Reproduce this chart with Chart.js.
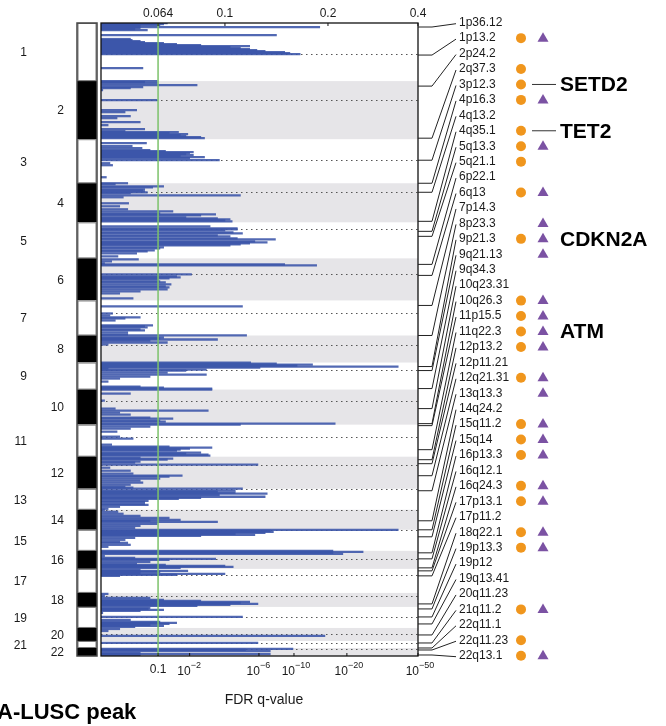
<!DOCTYPE html>
<html>
<head>
<meta charset="utf-8">
<script src="https://cdn.jsdelivr.net/npm/chart.js@4.4.1/dist/chart.umd.min.js"></script>
<style>
  html, body { margin: 0; padding: 0; background: #fff; }
  canvas { display: block; }
</style>
</head>
<body>
<canvas id="plot" width="666" height="726"></canvas>
<script>
// Chromosomes (lengths in marker units) and centromere offsets
const chromNames = ['1','2','3','4','5','6','7','8','9','10','11','12','13','14','15','16','17','18','19','20','21','22'];
const chromSizes = [58,58,44,39,36,42,35,27,27,35,32,32,21,20,21,18,24,14,21,13,7,8];
const centromeres = [31,19,21,9,7,16,13,9,7,11,12,8,0,0,0,8,6,3,10,6,2,1];

// Deletion G-score profile per chromosome: [offset, G-score]
const chr1 = [[0,.069],[1,.067],[2,.065],[3,.044],[4,.192],[5,.044],[6,.038],[7,.052],[12,.150],[16,.033],[17,.035],[18,.044],[19,.049],[20,.067],[21,.074],[22,.087],[23,.124],[24,.105],[25,.115],[26,.124],[27,.131],[28,.139],[29,.158],[30,.163],[31,.173],[45,.047]];
const chr2 = [[0,.063],[1,.049],[2,.063],[4,.085],[6,.047],[7,.033],[9,.002],[19,.063],[29,.040],[31,.027],[35,.033],[37,.018],[41,.044],[44,.008],[48,.049],[50,.027],[51,.075],[52,.070],[53,.080],[54,.076],[55,.079],[56,.087],[57,.089]];
const chr3 = [[4,.051],[7,.035],[9,.046],[11,.055],[12,.068],[13,.083],[14,.081],[15,.079],[16,.083],[17,.076],[18,.089],[19,.081],[21,.097],[24,.010],[26,.013],[38,.006]];
const chr4 = [[0,.030],[1,.016],[3,.067],[4,.058],[6,.049],[7,.047],[8,.049],[9,.052],[10,.033],[12,.115],[14,.025],[20,.031],[23,.021],[26,.030],[28,.072],[30,.065],[31,.095],[32,.087],[34,.079],[35,.096],[36,.105],[37,.100],[38,.107]];
const chr5 = [[4,.092],[6,.112],[7,.112],[8,.100],[10,.108],[11,.117],[13,.096],[14,.105],[16,.112],[17,.149],[19,.129],[20,.141],[21,.124],[22,.115],[23,.105],[25,.067],[26,.065],[28,.060],[29,.052],[31,.040],[34,.019]];
const chr6 = [[1,.042],[3,.012],[5,.004],[6,.158],[7,.189],[16,.082],[18,.074],[19,.076],[20,.070],[21,.064],[23,.065],[24,.068],[26,.071],[28,.068],[29,.070],[31,.069],[33,.044],[35,.021],[40,.036]];
const chr7 = [[6,.117],[13,.013],[15,.010],[17,.044],[18,.027],[20,.016],[25,.058],[26,.049],[27,.052],[29,.044],[30,.049],[32,.030],[34,.030]];
const chr8 = [[0,.121],[2,.067],[3,.065],[4,.096],[5,.055],[7,.069],[9,.008]];
const chr9 = [[0,.125],[1,.150],[2,.185],[3,.170],[4,.356],[5,.134],[6,.008],[7,.090],[8,.079],[10,.069],[12,.090],[14,.055],[16,.021],[19,.008],[24,.044],[25,.067],[26,.093]];
const chr10 = [[0,.093],[4,.033],[11,.004],[19,.016],[21,.091],[23,.021],[25,.033],[28,.055],[29,.072],[31,.065],[32,.068],[34,.216]];
const chr11 = [[0,.115],[2,.055],[4,.033],[7,.018],[12,.021],[14,.036],[20,.012],[22,.070],[23,.093],[24,.081],[25,.076],[26,.074],[28,.087],[29,.079],[30,.091],[31,.092]];
const chr12 = [[1,.044],[2,.072],[3,.069],[5,.044],[6,.038],[8,.132],[11,.010],[14,.033],[17,.036],[19,.077],[20,.070],[22,.065],[24,.044],[26,.047],[28,.033],[30,.027],[31,.036]];
const chr13 = [[0,.117],[2,.110],[3,.096],[4,.110],[5,.141],[6,.097],[8,.139],[9,.087],[10,.075],[12,.053],[13,.049],[15,.049],[16,.053],[18,.021],[20,.008]];
const chr14 = [[0,.004],[2,.019],[4,.025],[6,.044],[8,.070],[10,.076],[11,.055],[12,.096],[14,.063],[16,.044],[18,.038]];
const chr15 = [[0,.356],[1,.144],[2,.147],[3,.139],[4,.110],[5,.129],[6,.087],[8,.038],[10,.027],[12,.021],[13,.030],[15,.033],[17,.008]];
const chr16 = [[0,.211],[1,.278],[2,.211],[3,.233],[5,.004],[7,.038],[8,.095],[9,.070],[11,.055],[13,.040],[14,.068],[15,.100],[16,.108],[17,.076]];
const chr17 = [[1,.044],[2,.080],[3,.065],[4,.044],[5,.100],[6,.074],[7,.021]];
const chr18 = [[1,.008],[3,.004],[5,.055],[7,.067],[8,.087],[9,.124],[10,.115],[11,.132],[12,.105],[13,.085]];
const chr19 = [[1,.055],[2,.053],[3,.067],[4,.044],[6,.002],[10,.117],[13,.033],[15,.065],[16,.074],[17,.070],[18,.055],[19,.067],[20,.038]];
const chr20 = [[1,.021],[3,.008],[8,.197]];
const chr21 = [[2,.132]];
const chr22 = [[1,.166],[2,.120],[3,.144],[5,.044],[6,.144],[7,.044]];
const profiles = [chr1,chr2,chr3,chr4,chr5,chr6,chr7,chr8,chr9,chr10,chr11,chr12,chr13,chr14,chr15,chr16,chr17,chr18,chr19,chr20,chr21,chr22];

// Peak regions: cytoband, offset within its chromosome, and membership flags
const peakNames = ['1p36.12','1p13.2','2p24.2','2q37.3','3p12.3','4p16.3','4q13.2','4q35.1','5q13.3','5q21.1','6p22.1','6q13','7p14.3','8p23.3','9p21.3','9q21.13','9q34.3','10q23.31','10q26.3','11p15.5','11q22.3','12p13.2','12p11.21','12q21.31','13q13.3','14q24.2','15q11.2','15q14','16p13.3','16q12.1','16q24.3','17p13.1','17p11.2','18q22.1','19p13.3','19p12','19q13.41','20q11.23','21q11.2','22q11.1','22q11.23','22q13.1'];
const peakOffsets = [4,32,5,57,21,0,9,38,9,14,6,17,5,0,4,8,26,19,34,1,25,3,7,19,2,11,0,7,2,8,17,2,7,11,2,10,17,7,2,0,2,7];
const peakCircle   = [0,1,0,1,1,1,0,1,1,1,0,1,0,0,1,0,0,0,1,1,1,1,0,1,0,0,1,1,1,0,1,1,0,1,1,0,0,0,1,0,1,1];
const peakTriangle = [0,1,0,0,0,1,0,0,1,0,0,1,0,1,1,1,0,0,1,1,1,1,0,1,1,0,1,1,1,0,1,1,0,1,1,0,0,0,1,0,0,1];

// Highlighted genes
const geneNames = ['SETD2','TET2','CDKN2A','ATM'];
const genePeaks = ['3p12.3','4q35.1','9p21.3','11q22.3'];
const geneLeader = [true,true,false,false];

// Axis ticks: G-score (top) and FDR q-value (bottom)
const topTickScores = [0.064, 0.1, 0.2, 0.4];
const topTickLabels = ['0.064','0.1','0.2','0.4'];
const qTickScores = [0.064, 0.081, 0.133, 0.167, 0.242, 0.4];
const qTickBase = ['0.1','10','10','10','10','10'];
const qTickExp = ['','\u22122','\u22126','\u221210','\u221220','\u221250'];
const qThresholdScore = 0.064;

// Break points of the compressed G-score axis
const axisValues = [0, 0.064, 0.1, 0.2, 0.4];
const axisFractions = [0, 0.18, 0.391, 0.716, 1];

const FONT = '"Liberation Sans", Arial, Helvetica, sans-serif';

const chromStarts = [];
chromSizes.reduce((acc, s) => { chromStarts.push(acc); return acc + s; }, 0);
const genomeTotal = chromSizes.reduce((a, b) => a + b, 0);

function interp(v, xs, ys) {
  let i = 0;
  while (i < xs.length - 2 && v > xs[i + 1]) i++;
  const t = (v - xs[i]) / (xs[i + 1] - xs[i]);
  return ys[i] + t * (ys[i + 1] - ys[i]);
}

// Piecewise-linear G-score scale
class GScoreScale extends Chart.LinearScale {
  static id = 'gscore';
  static defaults = {};
  getPixelForValue(value) {
    if (value === null || value === undefined || isNaN(value)) return NaN;
    return this.getPixelForDecimal(interp(value, axisValues, axisFractions));
  }
  getValueForPixel(pixel) {
    return interp(this.getDecimalForPixel(pixel), axisFractions, axisValues);
  }
}
Chart.register(GScoreScale);

const profilePoints = [];
profiles.forEach((rows, c) => {
  rows.forEach(([off, g]) => profilePoints.push({ x: g, y: chromStarts[c] + off }));
});

function line(ctx, x0, y0, x1, y1) {
  ctx.beginPath(); ctx.moveTo(x0, y0); ctx.lineTo(x1, y1); ctx.stroke();
}

const genomePlot = {
  id: 'genomePlot',
  beforeDatasetsDraw(chart) {
    const { ctx, chartArea: a, scales: { y } } = chart;
    ctx.save();
    // shading for even chromosomes
    ctx.fillStyle = '#e6e5e8';
    chromSizes.forEach((size, i) => {
      if (i % 2 === 1) {
        const y0 = y.getPixelForValue(chromStarts[i]);
        const y1 = y.getPixelForValue(chromStarts[i] + size);
        ctx.fillRect(a.left, y0, a.right - a.left, y1 - y0);
      }
    });
    // centromeres
    ctx.strokeStyle = '#555';
    ctx.lineWidth = 1;
    ctx.setLineDash([1.5, 3.5]);
    centromeres.forEach((c, i) => {
      const yy = Math.round(y.getPixelForValue(chromStarts[i] + c)) + 0.5;
      line(ctx, a.left, yy, a.right, yy);
    });
    ctx.restore();
  },
  afterDatasetsDraw(chart) {
    const { ctx, chartArea: a, scales: { x, y } } = chart;
    ctx.save();

    // significance threshold
    const gx = x.getPixelForValue(qThresholdScore);
    ctx.strokeStyle = '#7cc26a';
    ctx.lineWidth = 1.5;
    line(ctx, gx, a.top, gx, a.bottom);

    // frame
    ctx.strokeStyle = '#111';
    ctx.lineWidth = 1.3;
    ctx.strokeRect(a.left, a.top, a.right - a.left, a.bottom - a.top);

    ctx.fillStyle = '#1a1a1a';
    ctx.lineWidth = 1;
    // top axis (G-score)
    ctx.font = '12px ' + FONT;
    ctx.textAlign = 'center';
    ctx.textBaseline = 'middle';
    topTickScores.forEach((v, i) => {
      const px = x.getPixelForValue(v);
      line(ctx, px, a.top, px, a.top + 3);
      ctx.fillText(topTickLabels[i], px, a.top - 9);
    });

    // bottom axis (q-value)
    qTickScores.forEach((v, i) => {
      const px = x.getPixelForValue(v);
      line(ctx, px, a.bottom, px, a.bottom - 3);
      if (!qTickExp[i]) {
        ctx.font = '12px ' + FONT;
        ctx.textAlign = 'center';
        ctx.textBaseline = 'middle';
        ctx.fillText(qTickBase[i], px, a.bottom + 14);
      } else {
        ctx.font = '12px ' + FONT;
        ctx.textAlign = 'right';
        ctx.textBaseline = 'alphabetic';
        ctx.fillText(qTickBase[i], px + 1, a.bottom + 19);
        ctx.font = '9px ' + FONT;
        ctx.textAlign = 'left';
        ctx.fillText(qTickExp[i], px + 1, a.bottom + 12);
      }
    });

    ctx.font = '14px ' + FONT;
    ctx.textAlign = 'center';
    ctx.textBaseline = 'middle';
    ctx.fillText('FDR q-value', 264, a.bottom + 44);

    // chromosome ideogram
    const ix = a.left - 24, iw = 20;
    chromSizes.forEach((size, i) => {
      const y0 = y.getPixelForValue(chromStarts[i]);
      const y1 = y.getPixelForValue(chromStarts[i] + size);
      ctx.fillStyle = i % 2 === 1 ? '#000' : '#fff';
      ctx.fillRect(ix, y0, iw, y1 - y0);
      if (i % 2 === 0) {
        ctx.strokeStyle = '#777';
        ctx.lineWidth = 1;
        ctx.strokeRect(ix + 1, y0 + 0.5, iw - 2, y1 - y0 - 1);
      }
    });
    ctx.strokeStyle = '#444';
    ctx.lineWidth = 1.5;
    ctx.strokeRect(ix, a.top, iw, a.bottom - a.top);

    // chromosome numbers
    ctx.fillStyle = '#1a1a1a';
    ctx.font = '12px ' + FONT;
    ctx.textAlign = 'right';
    ctx.textBaseline = 'middle';
    chromNames.forEach((name, i) => {
      const yc = y.getPixelForValue(chromStarts[i] + chromSizes[i] / 2);
      ctx.fillText(name, i % 2 === 0 ? a.left - 74 : a.left - 37, yc + 1);
    });

    // peak labels with leader lines
    const n = peakNames.length;
    const step = (a.bottom - a.top) / (n - 1);
    const labelY = i => a.top - 0.3 + i * step;
    ctx.strokeStyle = '#222';
    ctx.lineWidth = 1;
    ctx.textAlign = 'left';
    peakNames.forEach((name, i) => {
      const c = parseInt(name, 10) - 1;
      const py = y.getPixelForValue(chromStarts[c] + peakOffsets[i]);
      const ly = labelY(i);
      ctx.beginPath();
      ctx.moveTo(a.right, py);
      ctx.lineTo(a.right + 14, py);
      ctx.lineTo(a.right + 38, ly + 1);
      ctx.stroke();
      ctx.fillStyle = '#1a1a1a';
      ctx.fillText(name, a.right + 41, ly);
      if (peakCircle[i]) {
        ctx.fillStyle = '#f0961d';
        ctx.beginPath();
        ctx.arc(a.right + 103, ly, 5, 0, Math.PI * 2);
        ctx.fill();
      }
      if (peakTriangle[i]) {
        const tx = a.right + 125;
        ctx.fillStyle = '#7b52a3';
        ctx.beginPath();
        ctx.moveTo(tx, ly - 6);
        ctx.lineTo(tx + 5.5, ly + 3.5);
        ctx.lineTo(tx - 5.5, ly + 3.5);
        ctx.closePath();
        ctx.fill();
      }
    });

    // gene annotations
    ctx.font = 'bold 21px ' + FONT;
    ctx.fillStyle = '#000';
    ctx.strokeStyle = '#333';
    geneNames.forEach((g, k) => {
      const ly = labelY(peakNames.indexOf(genePeaks[k]));
      if (geneLeader[k]) line(ctx, a.right + 114, ly, a.right + 138, ly);
      ctx.fillText(g, a.right + 142, ly + 1);
    });

    // panel caption
    ctx.font = 'bold 22px ' + FONT;
    ctx.textBaseline = 'alphabetic';
    ctx.fillText('A-LUSC peak', -3, 719);

    ctx.restore();
  }
};

new Chart(document.getElementById('plot').getContext('2d'), {
  type: 'bar',
  data: {
    datasets: [{
      data: profilePoints,
      backgroundColor: 'rgba(58,84,168,0.88)',
      borderWidth: 0,
      barThickness: 1.6
    }]
  },
  options: {
    indexAxis: 'y',
    responsive: false,
    animation: false,
    devicePixelRatio: 1,
    layout: { padding: { left: 101, right: 248, top: 23, bottom: 70 } },
    scales: {
      x: { type: 'gscore', min: 0, max: 0.4, display: false },
      y: { type: 'linear', min: 0, max: genomeTotal, reverse: true, offset: false, display: false }
    },
    plugins: { legend: { display: false }, tooltip: { enabled: false } }
  },
  plugins: [genomePlot]
});
</script>
</body>
</html>
